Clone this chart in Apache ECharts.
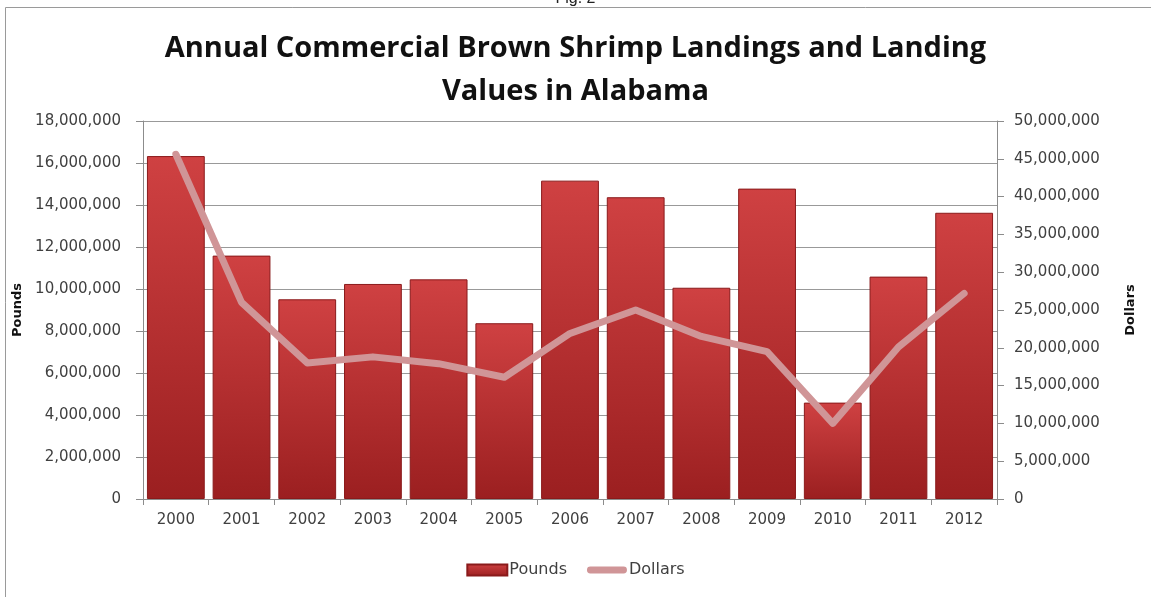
<!DOCTYPE html>
<html>
<head>
<meta charset="utf-8">
<script src="https://cdn.jsdelivr.net/npm/echarts@6/dist/echarts.min.js"></script>
<style>
html,body{margin:0;padding:0;background:#fff;}
#chart{width:1151px;height:597px;}
</style>
</head>
<body>
<div id="chart"></div>
<script>
const years = ['2000','2001','2002','2003','2004','2005','2006','2007','2008','2009','2010','2011','2012'];
const pounds = [16330000,11590000,9510000,10240000,10460000,8370000,15160000,14370000,10060000,14780000,4590000,10590000,13630000];
const dollars = [45600000,26000000,18000000,18800000,17900000,16100000,21900000,25000000,21500000,19500000,10000000,20100000,27200000];
const titleText = 'Annual Commercial Brown Shrimp Landings and Landing\nValues in Alabama';

const chart = echarts.init(document.getElementById('chart'), null, {renderer:'canvas'});
const fmt = v => Number(v).toLocaleString('en-US');
const tickFont = {fontFamily:'DejaVu Sans', fontSize:15, color:'#404040'};
const barGrad = new echarts.graphic.LinearGradient(0,0,0,1,[
  {offset:0,color:'#cf4142'},{offset:1,color:'#9b1f20'}]);
chart.setOption({
  backgroundColor:'#fff',
  animation:false,
  title:{
    text:titleText, left:'center', top:22,
    textStyle:{fontFamily:'Open Sans', fontWeight:'bold', fontSize:29, lineHeight:43, color:'#111'}
  },
  graphic:[
    {type:'rect', shape:{x:5.5,y:7.5,width:1150,height:600}, style:{fill:'none', stroke:'#9a9a9a', lineWidth:1}, silent:true},
    {type:'text', left:'center', top:-9, style:{text:'Fig. 2', font:'16px Liberation Sans', fill:'#222'}}
  ],
  legend:{
    bottom:14, left:'center', itemGap:20, itemWidth:40, itemHeight:11,
    textStyle:{fontFamily:'DejaVu Sans', fontSize:16, color:'#404040', padding:[0,0,0,-3]},
    data:[
      {name:'Pounds', icon:'rect'},
      {name:'Dollars', icon:'path://M3,2 L37,2 A3.5,3.5 0 0 1 37,9 L3,9 A3.5,3.5 0 0 1 3,2 Z'}
    ]
  },
  grid:{left:143, right:154, top:121, bottom:98, containLabel:false},
  xAxis:{
    type:'category', data:years,
    axisLine:{lineStyle:{color:'#8c8c8c'}},
    axisTick:{show:true, alignWithLabel:false, length:6, lineStyle:{color:'#8c8c8c'}},
    axisLabel:Object.assign({margin:14}, tickFont)
  },
  yAxis:[
    {type:'value', min:0, max:18000000, interval:2000000, name:'Pounds', nameLocation:'middle', nameGap:110, nameRotate:90,
     nameTextStyle:{fontFamily:'DejaVu Sans', fontSize:13, fontWeight:'bold', color:'#111'},
     axisLine:{show:true, lineStyle:{color:'#8c8c8c'}},
     axisTick:{show:true, length:7, lineStyle:{color:'#8c8c8c'}},
     splitLine:{lineStyle:{color:'#999', width:1}},
     axisLabel:Object.assign({margin:22, formatter:fmt}, tickFont)},
    {type:'value', min:0, max:50000000, interval:5000000, name:'Dollars', nameLocation:'middle', nameGap:127, nameRotate:90,
     nameTextStyle:{fontFamily:'DejaVu Sans', fontSize:13, fontWeight:'bold', color:'#111'},
     axisLine:{show:true, lineStyle:{color:'#8c8c8c'}},
     axisTick:{show:true, length:7, lineStyle:{color:'#8c8c8c'}},
     splitLine:{show:false},
     axisLabel:Object.assign({margin:17, formatter:fmt}, tickFont)}
  ],
  series:[
    {name:'Pounds', type:'bar', data:pounds, yAxisIndex:0, barCategoryGap:'12%',
     itemStyle:{color:barGrad, borderColor:'#8a1a1b', borderWidth:1}},
    {name:'Dollars', type:'line', data:dollars, yAxisIndex:1, symbol:'none', showSymbol:false,
     lineStyle:{color:'#d09597', width:7, cap:'round', join:'round'},
     itemStyle:{color:'#d09597'}}
  ]
});
</script>
</body>
</html>
